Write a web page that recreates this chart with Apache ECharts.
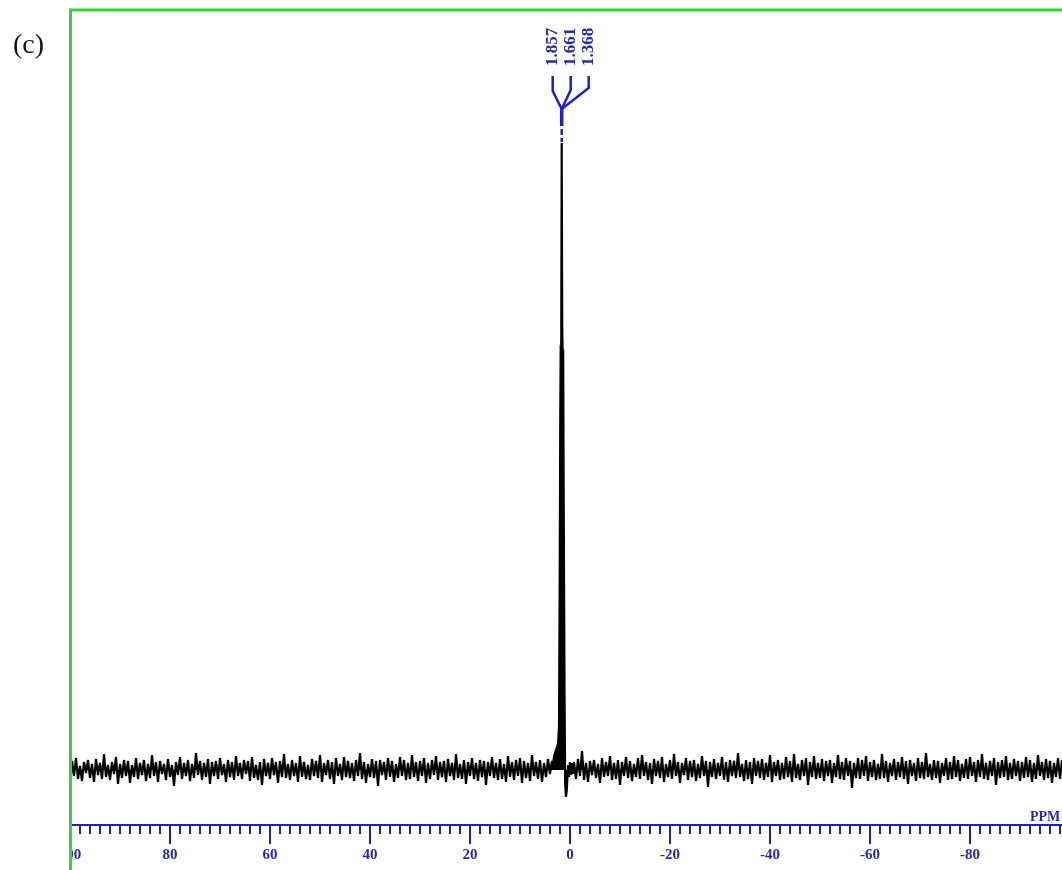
<!DOCTYPE html>
<html>
<head>
<meta charset="utf-8">
<title>(c) NMR spectrum</title>
<script src="https://cdn.jsdelivr.net/npm/echarts@6/dist/echarts.min.js"></script>
<style>
  html, body { margin: 0; padding: 0; background: #ffffff; overflow: hidden; }
  /* the ppm scale runs on a little past the right edge of the window */
  #chart { width: 1080px; height: 870px; }
</style>
</head>
<body>
<div id="chart"></div>
<script>
// Chemical shift axis (ppm), drawn high-to-low from left to right
const axisMin = -100;
const axisMax = 100;
const axisInterval = 20;

// Sampling of the baseline trace (ppm per point)
const sampleStep = 0.4;

// Baseline noise from 100 ppm down towards the signal
const noiseLeftStart = 100;
const noiseLeft = [
  -1.5,0.9,-0.6,1.2,-0.9,0.4,-1.1,0.8,-0.3,1.0,-0.8,0.6,-1.2,1.1,-0.5,0.7,-0.9,1.6,-0.7,0.5,
  -1.0,0.8,-0.4,1.3,-1.4,0.6,-0.8,1.0,-0.6,0.9,-1.3,0.5,-0.7,1.2,-0.9,0.7,-0.5,1.0,-1.1,0.6,
  -0.8,1.5,-0.6,0.8,-1.2,0.9,-0.4,0.6,-1.0,1.1,-0.7,0.5,-1.6,0.8,-0.5,1.3,-0.9,0.7,-0.6,1.0,
  -1.1,0.6,-0.8,1.7,-0.5,0.9,-1.0,0.7,-0.7,1.1,-1.4,0.8,-0.6,0.9,-0.9,1.2,-0.5,0.6,-1.2,1.0,
  -0.7,0.8,-1.0,1.4,-0.6,0.7,-0.9,1.0,-0.4,0.9,-1.1,1.3,-0.8,0.5,-1.0,0.8,-1.5,1.1,-0.6,0.7,
  -0.9,1.2,-0.5,0.8,-1.3,0.9,-0.7,1.6,-0.8,0.6,-1.0,1.0,-0.6,0.7,-1.2,1.4,-0.7,0.8,-0.9,0.5,
  -1.0,1.1,-0.6,0.9,-0.8,1.5,-1.2,0.7,-0.5,1.0,-0.9,0.8,-1.4,1.2,-0.6,0.6,-1.0,1.3,-0.7,0.9,
  -0.8,0.7,-1.1,1.0,-0.6,1.7,-0.9,0.8,-1.3,0.6,-0.7,1.1,-0.8,0.9,-1.6,1.0,-0.5,0.8,-1.0,1.2,
  -0.7,0.9,-1.2,0.6,-0.8,1.3,-0.6,1.0,-1.0,0.7,-0.9,1.5,-0.7,0.8,-1.1,0.9,-0.6,1.2,-1.3,0.7,
  -0.9,1.0,-0.5,1.4,-1.0,0.8,-0.7,0.9,-1.2,1.1,-0.6,0.7,-1.0,1.6,-0.8,0.6,-0.9,1.0,-1.4,0.8,
  -0.6,1.2,-0.9,0.7,-1.1,1.0,-0.7,0.9,-1.5,0.8,-0.6,1.3,-0.8,0.7,-1.0,1.1,-0.9,0.6,-1.2,1.4,
  -0.7,0.8,-1.0,1.0,-0.6,1.2,-1.3,0.9,-0.8,0.7,-1.1,1.5,-0.6,0.8,-0.9,1.0,-1.2,0.7,-0.7,1.1,
  -0.4
];

// The signal region, finely sampled
const peakPpm = [
  3.8, 3.6, 3.4, 3.2, 3.0, 2.8, 2.6, 2.4, 2.2, 2.05, 1.95, 1.857, 1.76, 1.661, 1.55, 1.45,
  1.368, 1.25, 1.1, 0.96, 0.8, 0.64, 0.5, 0.36, 0.2, 0.0, -0.2, -0.4, -0.6
];
const peakIntensity = [
  0.3, 0.9, 0.5, 1.3, 1.7, 2.0, 2.3, 2.6, 4.3, 20.0, 35.0, 42.5, 40.8, 62.7, 44.0, 41.5,
  42.0, 26.0, 8.0, -1.5, -2.7, -2.0, -0.6, 0.5, -0.7, 0.8, -0.5, 0.7, -0.4
];

// Baseline noise from just past the signal down to -100 ppm
const noiseRightStart = -0.8;
const noiseRight = [
  0.8,-0.9,1.1,-0.6,1.9,-1.0,0.7,-1.2,0.9,-0.5,1.0,-0.8,0.6,-1.3,1.2,-0.7,0.8,-0.6,1.4,-1.0,
  0.7,-0.9,1.0,-1.5,0.8,-0.6,1.3,-0.8,0.9,-1.1,0.6,-0.7,1.2,-0.9,1.5,-0.6,0.8,-1.0,0.7,-1.4,
  1.1,-0.6,0.9,-0.8,1.3,-1.2,0.6,-0.7,1.0,-0.9,1.6,-0.6,0.8,-1.3,0.7,-0.5,1.2,-1.0,0.9,-0.7,
  1.0,-1.1,0.6,-0.8,1.4,-0.6,0.9,-1.7,0.8,-0.7,1.1,-0.9,0.7,-0.6,1.3,-1.0,0.8,-1.2,1.0,-0.6,
  0.9,-0.8,1.7,-0.7,0.6,-1.1,1.0,-0.9,0.8,-1.4,1.2,-0.6,0.9,-0.8,1.1,-1.0,0.7,-0.7,1.5,-1.2,
  0.8,-0.6,1.0,-1.0,0.7,-0.9,1.3,-0.7,0.9,-1.2,1.6,-0.8,0.6,-1.0,1.0,-0.6,1.2,-1.5,0.8,-0.7,
  1.4,-0.9,0.7,-0.8,1.1,-1.1,0.9,-0.6,1.0,-1.3,0.7,-0.7,1.5,-0.9,0.8,-1.0,1.2,-0.6,0.9,-1.8,
  0.7,-0.8,1.2,-0.9,1.0,-0.6,1.4,-1.1,0.8,-0.7,1.0,-1.0,0.6,-0.9,1.6,-0.8,0.9,-1.2,0.7,-0.6,
  1.1,-1.0,0.8,-0.7,1.3,-0.9,0.9,-1.4,1.0,-0.6,0.7,-1.1,1.2,-0.8,0.8,-0.9,1.7,-0.7,0.6,-1.0,
  1.0,-0.8,0.9,-1.3,0.7,-0.6,1.2,-1.0,0.8,-0.9,1.4,-0.7,1.0,-1.1,0.6,-0.8,1.1,-0.9,1.3,-0.6,
  0.8,-1.2,1.0,-0.7,1.6,-0.9,0.7,-1.0,0.9,-0.6,1.2,-1.5,0.8,-0.8,1.0,-0.7,1.4,-1.0,0.7,-0.9,
  1.1,-0.6,0.9,-1.1,0.8,-0.8,1.3,-0.7,1.0,-1.2,0.7,-0.9,1.5,-0.6,0.8,-1.0,1.1,-0.8,0.9,-1.3,
  0.7,-0.7,1.2,-0.9,1.0,-0.6,0.8,-1.1,1.4,-0.8,0.9,-0.7,1.0,-1.0,0.6,-0.9,1.2,-0.6,0.8,-0.7
];

// Picked peaks shown in the annotation
const peakLabels = ['1.857', '1.661', '1.368'];

// Colours
const frameGreen = '#3fce3f';
const axisBlue = '#2424a0';
const labelBlue = '#2a2aa6';
const annotBlue = '#1f1fc4';

// Assemble the trace as [ppm, intensity] pairs
const spectrum = [];
const firstPeakPpm = peakPpm[0];
const lastPeakPpm = peakPpm[peakPpm.length - 1];
noiseLeft.forEach((v, i) => {
  const p = +(noiseLeftStart - i * sampleStep).toFixed(3);
  if (p > firstPeakPpm) spectrum.push([p, v]);
});
peakPpm.forEach((p, i) => spectrum.push([p, peakIntensity[i]]));
noiseRight.forEach((v, i) => {
  const p = +(noiseRightStart - i * sampleStep).toFixed(3);
  if (p < lastPeakPpm) spectrum.push([p, v]);
});

const serif = '"Liberation Serif", "Times New Roman", "DejaVu Serif", serif';

const chart = echarts.init(document.getElementById('chart'), null, { renderer: 'canvas' });

chart.setOption({
  animation: false,
  backgroundColor: '#ffffff',
  grid: { left: 70, top: 10, width: 1000, height: 815, containLabel: false },
  xAxis: {
    type: 'value',
    inverse: true,
    min: axisMin,
    max: axisMax,
    interval: axisInterval,
    splitLine: { show: false },
    axisLine: { onZero: false, lineStyle: { color: axisBlue, width: 2 } },
    axisTick: { show: true, length: 19, lineStyle: { color: axisBlue, width: 2 } },
    minorTick: { show: true, splitNumber: 10, length: 9, lineStyle: { color: axisBlue, width: 2 } },
    minorSplitLine: { show: false },
    axisLabel: {
      margin: 23,
      color: labelBlue,
      fontFamily: serif,
      fontWeight: 'bold',
      fontSize: 15,
      showMinLabel: false
    }
  },
  yAxis: {
    type: 'value',
    min: -5.5,
    max: 76,
    show: false
  },
  series: [{
    type: 'line',
    data: spectrum,
    symbol: 'none',
    sampling: null,
    clip: true,
    lineStyle: { color: '#000000', width: 2.2 },
    // fill between the trace and the zero line so the noise reads as a solid band
    areaStyle: { color: '#000000', opacity: 1, origin: 0 },
    z: 3
  }]
});

// Peak-pick annotation, placed from the axis scales
const peakIdx = peakIntensity.indexOf(Math.max(...peakIntensity));
const peakTopPx = chart.convertToPixel({ gridIndex: 0 }, [peakPpm[peakIdx], peakIntensity[peakIdx]]);
const cx = peakTopPx[0];
const topY = peakTopPx[1];
const colOffsets = [-9, 9, 27];
const colBottoms = [91, 90, 88];

const graphics = [];

// Mask the part of the first tick label that falls outside the frame
graphics.push({
  type: 'rect', z: 100,
  shape: { x: 0, y: 834, width: 70, height: 36 },
  style: { fill: '#ffffff' }
});

// Green frame (left and top edges)
graphics.push({
  type: 'line', z: 110,
  shape: { x1: 70.5, y1: 8.5, x2: 70.5, y2: 870 },
  style: { stroke: frameGreen, lineWidth: 3 }
});
graphics.push({
  type: 'line', z: 110,
  shape: { x1: 69, y1: 10, x2: 1080, y2: 10 },
  style: { stroke: frameGreen, lineWidth: 3 }
});

// Panel letter
graphics.push({
  type: 'text', z: 110,
  x: 13, y: 46,
  style: { text: '(c)', font: '28px ' + serif, fill: '#111111', align: 'left', verticalAlign: 'middle' }
});

// Axis unit
graphics.push({
  type: 'text', z: 110,
  x: 1030, y: 817,
  style: { text: 'PPM', font: 'bold 14px ' + serif, fill: labelBlue, align: 'left', verticalAlign: 'middle' }
});

const joinY = topY - 34;
peakLabels.forEach((lab, i) => {
  const colX = cx + colOffsets[i];
  graphics.push({
    type: 'text', z: 110,
    x: colX, y: 66,
    rotation: Math.PI / 2,
    style: { text: lab, x: 0, y: 0, font: 'bold 17px ' + serif, fill: labelBlue, align: 'left', verticalAlign: 'middle' }
  });
  graphics.push({
    type: 'polyline', z: 110,
    shape: { points: [[colX, 76], [colX, colBottoms[i]], [cx, joinY]] },
    style: { stroke: annotBlue, lineWidth: 2.5, fill: null }
  });
});
// Stem and dashed lead-in to the peak top
graphics.push({
  type: 'line', z: 110,
  shape: { x1: cx, y1: joinY, x2: cx, y2: topY - 17 },
  style: { stroke: annotBlue, lineWidth: 3.5 }
});
graphics.push({
  type: 'line', z: 110,
  shape: { x1: cx, y1: topY - 14, x2: cx, y2: topY - 8 },
  style: { stroke: annotBlue, lineWidth: 2.5 }
});
graphics.push({
  type: 'line', z: 110,
  shape: { x1: cx, y1: topY - 5, x2: cx, y2: topY - 1 },
  style: { stroke: annotBlue, lineWidth: 2.5 }
});

chart.setOption({ graphic: graphics });
</script>
</body>
</html>
